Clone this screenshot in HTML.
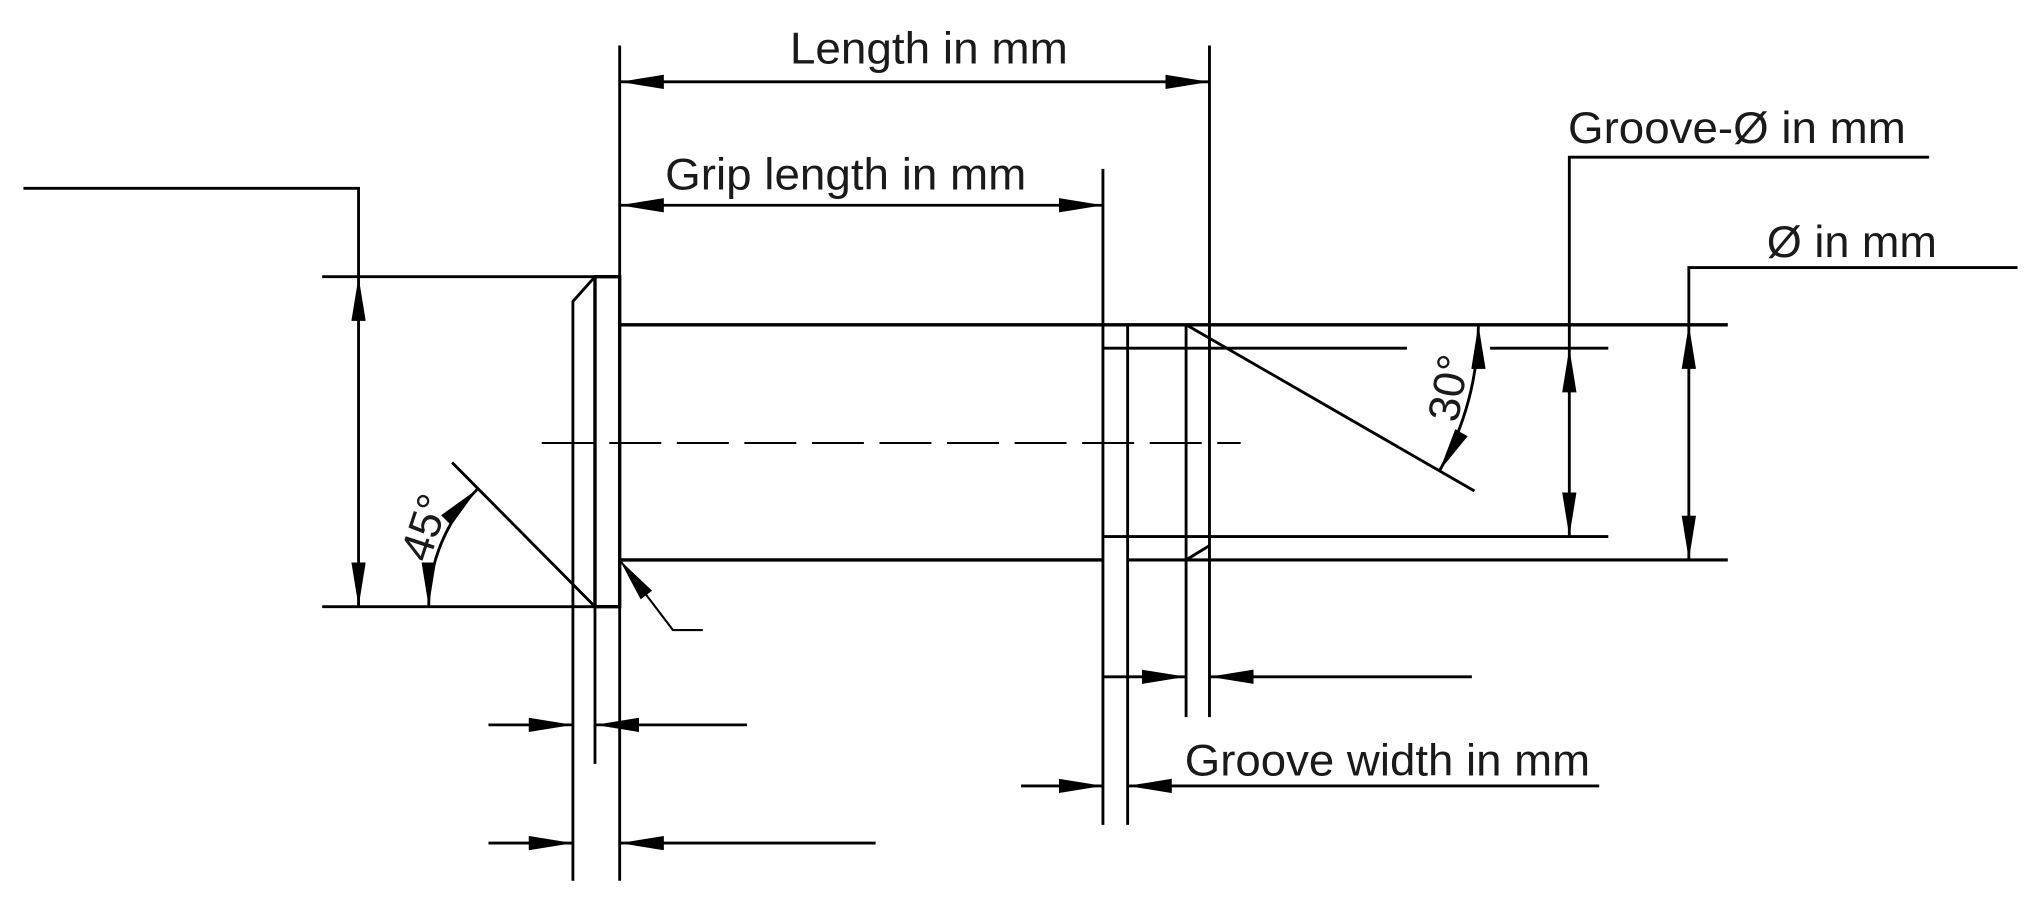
<!DOCTYPE html>
<html><head><meta charset="utf-8"><style>html,body{margin:0;padding:0;background:#fff;}svg{display:block}</style></head>
<body>
<svg width="2037" height="897" viewBox="0 0 1568 690.5" preserveAspectRatio="none" xmlns="http://www.w3.org/2000/svg">
<defs>
<marker id="a" markerUnits="userSpaceOnUse" markerWidth="36" markerHeight="12" refX="34" refY="5.5" orient="auto-start-reverse"><path d="M0,0 L34,5.5 L0,11 z" fill="#000"/></marker>
</defs>
<g stroke="#000" stroke-width="2.2" fill="none">
<line x1="477" y1="35" x2="477" y2="678"/>
<line x1="931" y1="35" x2="931" y2="552"/>
<line x1="477" y1="63" x2="931" y2="63" marker-start="url(#a)" marker-end="url(#a)"/>
<line x1="849" y1="130" x2="849" y2="635"/>
<line x1="477" y1="158" x2="849" y2="158" marker-start="url(#a)" marker-end="url(#a)"/>
<polyline points="18,145 276,145 276,213"/>
<line x1="276" y1="213" x2="276" y2="467" marker-start="url(#a)" marker-end="url(#a)"/>
<line x1="248" y1="213" x2="477" y2="213"/>
<line x1="248" y1="467" x2="477" y2="467"/>
<rect x="458" y="213" width="19" height="254" stroke-width="2.6"/>
<polyline points="458,213 441,232 441,678"/>
<line x1="458" y1="467" x2="458" y2="588"/>
<line x1="348" y1="356" x2="458" y2="467"/>
<path d="M330,467 A128,128 0 0 1 367.5,376.5" marker-start="url(#a)" marker-end="url(#a)"/>
<line x1="477" y1="250" x2="1330" y2="250" stroke-width="2.6"/>
<line x1="477" y1="431" x2="849" y2="431" stroke-width="2.6"/>
<line x1="868" y1="431" x2="1330" y2="431" stroke-width="2.4"/>
<polyline points="541,485 518,485 477,431" marker-end="url(#a)" stroke-width="1.6"/>
<line x1="417" y1="341" x2="955" y2="341" stroke-dasharray="40,12" stroke-width="1.5"/>
<line x1="868" y1="250" x2="868" y2="635"/>
<line x1="913" y1="250" x2="913" y2="552"/>
<line x1="849" y1="268" x2="1083" y2="268"/>
<line x1="1147" y1="268" x2="1238" y2="268"/>
<line x1="849" y1="413" x2="1238" y2="413"/>
<line x1="913" y1="250" x2="1135" y2="378"/>
<line x1="913" y1="431" x2="931" y2="420"/>
<path d="M1138,250 A225,225 0 0 1 1108,362.5" marker-start="url(#a)" marker-end="url(#a)"/>
<polyline points="1485,121 1208,121 1208,268"/>
<line x1="1208" y1="268" x2="1208" y2="413" marker-start="url(#a)" marker-end="url(#a)"/>
<polyline points="1553,206 1300,206 1300,250"/>
<line x1="1300" y1="250" x2="1300" y2="431" marker-start="url(#a)" marker-end="url(#a)"/>
<line x1="849" y1="521" x2="913" y2="521" marker-end="url(#a)"/>
<line x1="1133" y1="521" x2="931" y2="521" marker-end="url(#a)"/>
<line x1="376" y1="558" x2="441" y2="558" marker-end="url(#a)"/>
<line x1="575" y1="558" x2="458" y2="558" marker-end="url(#a)"/>
<line x1="376" y1="649" x2="441" y2="649" marker-end="url(#a)"/>
<line x1="674" y1="649" x2="477" y2="649" marker-end="url(#a)"/>
<line x1="786" y1="605" x2="849" y2="605" marker-end="url(#a)"/>
<line x1="1231" y1="605" x2="868" y2="605" marker-end="url(#a)"/>
</g>
<g font-family="Liberation Sans, Arial, sans-serif" font-size="34" fill="#1a1a1a">
<text x="608" y="49" textLength="214" lengthAdjust="spacingAndGlyphs">Length in mm</text>
<text x="512" y="146" textLength="278" lengthAdjust="spacingAndGlyphs">Grip length in mm</text>
<text x="1207" y="110" textLength="260" lengthAdjust="spacingAndGlyphs">Groove-Ø in mm</text>
<text x="1360" y="198" textLength="131" lengthAdjust="spacingAndGlyphs">Ø in mm</text>
<text x="912" y="597" textLength="312" lengthAdjust="spacingAndGlyphs">Groove width in mm</text>
<text transform="translate(330,434) rotate(-72)">45°</text>
<text transform="translate(1122,326) rotate(-80)">30°</text>
</g>
</svg>
</body></html>
